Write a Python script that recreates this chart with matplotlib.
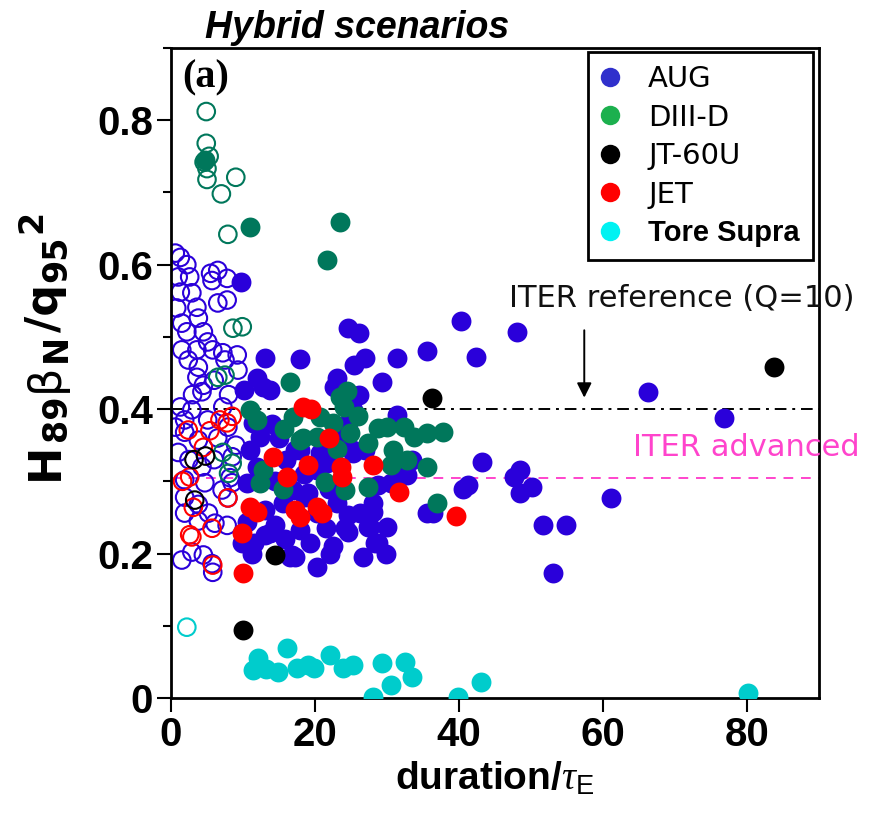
import matplotlib
matplotlib.use("Agg")
import matplotlib.pyplot as plt
from matplotlib.lines import Line2D
from matplotlib.ticker import MultipleLocator
from matplotlib.transforms import IdentityTransform

plt.rcParams['font.family'] = ['Liberation Sans', 'DejaVu Sans']
plt.rcParams['mathtext.fontset'] = 'custom'
plt.rcParams['mathtext.rm'] = 'Liberation Sans'
plt.rcParams['mathtext.bf'] = 'Liberation Sans:bold'
plt.rcParams['mathtext.it'] = 'Liberation Serif:italic'

# ---- data: (duration/tau_E, H89*betaN/q95^2) ----
aug_x = [9.7, 40.3, 24.6, 26.1, 48.1, 13.1, 17.9, 26.9, 25.4, 31.4, 35.6, 42.4, 66.2, 76.8,
         12.0, 12.8, 10.2, 13.8, 23.1, 22.6, 29.3, 26.1, 25.3, 31.4, 43.2, 41.2, 40.6, 48.5,
         47.6, 50.2, 48.5, 61.1, 51.6, 54.8, 53.1, 36.4, 31.8, 28.7, 25.3, 28.0, 24.6, 24.2,
         27.3, 30.0, 26.6, 29.8, 28.4, 20.3, 22.1, 19.3, 17.2, 17.9, 20.3, 18.6, 21.7, 17.2,
         16.8, 11.3, 9.9, 10.5, 13.1, 11.4, 12.4, 11.0, 12.0, 10.6, 13.8, 11.5, 17.0, 19.0,
         20.7, 20.3, 21.7, 17.9, 27.0, 25.3, 32.8, 30.5, 26.3, 27.7, 24.6, 28.7, 35.6, 23.6,
         24.6, 14.5, 15.5, 13.0, 14.5, 15.8, 22.5, 21.5, 23.0, 22.0, 18.5, 16.0, 14.0, 15.0,
         28.0, 33.5, 16.6]
aug_y = [0.576, 0.522, 0.512, 0.505, 0.507, 0.471, 0.469, 0.471, 0.461, 0.471, 0.480, 0.472,
         0.424, 0.388, 0.443, 0.430, 0.426, 0.426, 0.443, 0.430, 0.437, 0.420, 0.399, 0.392,
         0.327, 0.295, 0.290, 0.316, 0.306, 0.292, 0.284, 0.277, 0.239, 0.239, 0.173, 0.256,
         0.306, 0.295, 0.339, 0.257, 0.253, 0.235, 0.237, 0.237, 0.195, 0.200, 0.215, 0.181,
         0.200, 0.215, 0.195, 0.233, 0.256, 0.278, 0.340, 0.343, 0.198, 0.200, 0.215, 0.243,
         0.226, 0.381, 0.361, 0.343, 0.320, 0.298, 0.228, 0.215, 0.288, 0.284, 0.339, 0.316,
         0.326, 0.343, 0.343, 0.343, 0.309, 0.298, 0.256, 0.237, 0.230, 0.215, 0.256, 0.361,
         0.381, 0.300, 0.270, 0.260, 0.240, 0.220, 0.210, 0.235, 0.270, 0.290, 0.310, 0.330,
         0.380, 0.360, 0.270, 0.330, 0.195]

jet_x = [18.4, 19.4, 14.2, 19.0, 23.6, 23.8, 28.0, 31.6, 39.6, 16.1, 11.0, 12.0, 9.9, 20.3,
         17.9, 21.0, 17.2, 10.0, 22.0]
jet_y = [0.403, 0.400, 0.334, 0.322, 0.320, 0.306, 0.322, 0.285, 0.252, 0.306, 0.264, 0.258,
         0.228, 0.264, 0.250, 0.256, 0.260, 0.173, 0.360]

d3d_x = [4.7, 11.0, 23.5, 21.7, 16.6, 11.0, 12.0, 23.5, 24.0, 22.5, 17.0, 15.7, 20.3, 28.8,
         32.3, 33.7, 37.8, 35.6, 30.9, 35.6, 27.4, 24.9, 18.4, 12.8, 12.4, 21.4, 24.2, 27.3,
         37.0, 32.8, 30.5, 20.7, 17.9, 23.0, 15.5, 24.5, 30.0, 26.0]
d3d_y = [0.745, 0.652, 0.659, 0.606, 0.437, 0.399, 0.385, 0.417, 0.403, 0.381, 0.389, 0.372,
         0.361, 0.374, 0.375, 0.361, 0.368, 0.367, 0.343, 0.320, 0.353, 0.367, 0.360, 0.316,
         0.298, 0.299, 0.288, 0.292, 0.270, 0.329, 0.322, 0.389, 0.357, 0.345, 0.290, 0.425,
         0.375, 0.390]

jt_x = [83.7, 36.3, 14.5, 10.0]
jt_y = [0.458, 0.415, 0.198, 0.094]

ts_x = [16.1, 12.1, 11.4, 13.2, 14.8, 17.5, 19.0, 19.9, 22.1, 23.9, 25.3, 29.3, 32.5, 33.5,
        30.5, 28.1, 39.9, 43.1, 80.1]
ts_y = [0.069, 0.055, 0.039, 0.040, 0.036, 0.042, 0.046, 0.041, 0.060, 0.042, 0.046, 0.048,
        0.050, 0.029, 0.018, 0.002, 0.002, 0.022, 0.007]

# short-duration discharges (open symbols)
aug_open_x = [0.6, 1.3, 2.2, 6.5, 5.5, 1.0, 2.6, 5.7, 7.8, 1.3, 2.9, 6.5, 7.8, 3.6, 0.8, 3.8,
              1.5, 2.2, 4.5, 5.1, 1.5, 3.6, 5.8, 7.2, 9.2, 2.4, 7.5, 3.8, 9.3, 3.6, 4.5, 4.3,
              1.3, 2.9, 7.2, 1.9, 5.1, 0.6, 7.9, 6.5, 3.8, 1.9, 9.0, 4.3, 8.5, 8.2, 1.9, 4.7,
              1.9, 3.8, 1.9, 5.2, 6.1, 7.8, 3.8, 1.5, 2.9, 4.5, 5.8, 5.7, 7.9, 8.5, 7.1, 6.0,
              2.5, 1.0, 6.0, 8.0, 3.0]
aug_open_y = [0.616, 0.610, 0.600, 0.592, 0.588, 0.583, 0.583, 0.578, 0.581, 0.562, 0.561,
              0.547, 0.551, 0.541, 0.540, 0.526, 0.519, 0.507, 0.507, 0.493, 0.482, 0.482,
              0.482, 0.478, 0.475, 0.468, 0.468, 0.458, 0.454, 0.444, 0.433, 0.424, 0.403,
              0.399, 0.403, 0.385, 0.385, 0.375, 0.375, 0.360, 0.357, 0.368, 0.350, 0.320,
              0.334, 0.305, 0.302, 0.298, 0.278, 0.268, 0.256, 0.256, 0.242, 0.239, 0.245,
              0.191, 0.202, 0.198, 0.174, 0.186, 0.277, 0.298, 0.288, 0.330, 0.330, 0.340,
              0.440, 0.420, 0.420]

jet_open_x = [2.6, 5.8, 5.7, 7.9, 3.1, 2.4, 6.8, 7.8, 2.6, 5.4, 4.5, 2.9, 1.6, 8.5]
jet_open_y = [0.226, 0.184, 0.235, 0.277, 0.264, 0.371, 0.385, 0.381, 0.306, 0.370, 0.347,
              0.223, 0.300, 0.390]

d3d_open_x = [4.9, 4.9, 5.3, 4.6, 5.0, 5.0, 9.0, 7.0, 7.9, 8.6, 9.9, 6.5, 7.5, 8.5, 8.0, 7.2]
d3d_open_y = [0.812, 0.768, 0.750, 0.742, 0.733, 0.718, 0.721, 0.698, 0.642, 0.512, 0.514,
              0.444, 0.447, 0.325, 0.311, 0.340]

jt_open_x = [3.2, 4.8, 3.3]
jt_open_y = [0.330, 0.335, 0.274]

ts_open_x = [2.2]
ts_open_y = [0.098]

iter_reference = 0.40
iter_advanced = 0.305

labels = ["AUG", "DIII-D", "JT-60U", "JET", "Tore Supra"]

# ---- colours ----
c_aug = '#2a00da'
c_d3d = '#00775b'
c_jt = '#000000'
c_jet = '#ff0000'
c_ts = '#00cccc'
leg_colors = ['#3030cc', '#1cb04e', '#000000', '#ff0000', '#00f2f2']

W, H = 875, 815
fig = plt.figure(figsize=(W / 100, H / 100), dpi=100)
ax = fig.add_axes([0.1954, 0.1436, 0.7406, 0.7975])

ax.set_xlim(0, 90)
ax.set_ylim(0, 0.9)

# reference lines
ax.axhline(iter_reference, color='black', lw=1.4, ls=(0, (6, 3, 1.5, 3)), zorder=1)
ax.axhline(iter_advanced, color='#ff44cc', lw=1.4, ls=(0, (5, 4)), zorder=1)

open_kw = dict(s=160, facecolors='none', linewidths=1.5, zorder=2)
ax.scatter(aug_open_x, aug_open_y, edgecolors=c_aug, **open_kw)
ax.scatter(d3d_open_x, d3d_open_y, edgecolors=c_d3d, **open_kw)
ax.scatter(jet_open_x, jet_open_y, edgecolors=c_jet, **open_kw)
ax.scatter(jt_open_x, jt_open_y, edgecolors=c_jt, **open_kw)
ax.scatter(ts_open_x, ts_open_y, edgecolors=c_ts, **open_kw)

fill_kw = dict(s=205, linewidths=0, zorder=3)
ax.scatter(aug_x, aug_y, color=c_aug, **fill_kw)
ax.scatter(d3d_x, d3d_y, color=c_d3d, **fill_kw)
ax.scatter(jet_x, jet_y, color=c_jet, **fill_kw)
ax.scatter(jt_x, jt_y, color=c_jt, **fill_kw)
ax.scatter(ts_x, ts_y, color=c_ts, **fill_kw)

# annotations
ax.annotate('', xy=(57.4, 0.412), xytext=(57.4, 0.513),
            arrowprops=dict(arrowstyle='-|>', color='black', lw=1.4,
                            mutation_scale=22), zorder=4)
ax.text(46.9, 0.553, 'ITER reference (Q=10)', fontsize=22, va='center', ha='left',
        family='DejaVu Sans', color='#111111', clip_on=False)
ax.text(64.1, 0.347, 'ITER advanced', fontsize=22, va='center', ha='left',
        family='DejaVu Sans', color='#ff44cc', clip_on=False)
ax.text(0.018, 0.982, '(a)', transform=ax.transAxes, fontsize=29, fontweight='bold',
        family='Liberation Serif', va='top', ha='left')

# legend
handles = [Line2D([], [], ls='none', marker='o', markersize=14, markerfacecolor=c,
                  markeredgewidth=0) for c in leg_colors]
leg = ax.legend(handles, labels, loc='upper right', bbox_to_anchor=(0.9907, 0.9938),
                borderaxespad=0, prop={'family': 'DejaVu Sans', 'size': 21},
                handlelength=0.6, handletextpad=1.0, labelspacing=0.36, borderpad=0.45,
                fancybox=False, framealpha=1, edgecolor='black')
leg.get_frame().set_linewidth(2)
ts_label = leg.get_texts()[-1]
ts_label.set_fontfamily('Liberation Sans')
ts_label.set_fontweight('bold')
ts_label.set_fontsize(21)

# axes styling
for sp in ax.spines.values():
    sp.set_linewidth(2)
ax.xaxis.set_major_locator(MultipleLocator(20))
ax.yaxis.set_minor_locator(MultipleLocator(0.1))
ax.set_yticks([0, 0.2, 0.4, 0.6, 0.8])
ax.set_yticklabels(['0', '0.2', '0.4', '0.6', '0.8'])
ax.tick_params(which='major', direction='out', length=10, width=1.5, labelsize=29, pad=3)
ax.tick_params(which='minor', direction='out', length=6, width=1.5)
for lab in ax.get_xticklabels() + ax.get_yticklabels():
    lab.set_fontweight('bold')

ax.set_xlabel(r'$\mathbf{duration/}\mathit{\tau}_{\mathrm{E}}$', fontsize=28, labelpad=4)

fig.text(0.234, 0.953, 'Hybrid scenarios', fontsize=27, fontweight='bold', style='italic',
         va='baseline', ha='left')

# rotated y label assembled from pieces (main text, subscripts, superscript)
ylabel_pieces = [("H", 32, 'bold', 0), ("89", 24, 'bold', 8), ("\u03b2", 32, 'normal', 0),
                 ("N", 24, 'bold', 8), ("/q", 32, 'bold', 0), ("95", 24, 'bold', 8),
                 ("2", 24, 'bold', -17)]
renderer = fig.canvas.get_renderer()
pieces, lengths = [], []
for s, size, weight, shift in ylabel_pieces:
    t = fig.text(0, 0, s, rotation=90, rotation_mode='anchor', ha='left', va='baseline',
                 fontsize=size, fontweight=weight, family='DejaVu Sans',
                 transform=IdentityTransform())
    lengths.append(t.get_window_extent(renderer).height)
    pieces.append((t, shift))
gap = 2
total = sum(lengths) + gap * (len(pieces) - 1)
y = (H - 345) - total / 2
x_base = 58
for (t, shift), L in zip(pieces, lengths):
    t.set_position((x_base + shift, y))
    y += L + gap

fig.savefig('out.png', dpi=100)
